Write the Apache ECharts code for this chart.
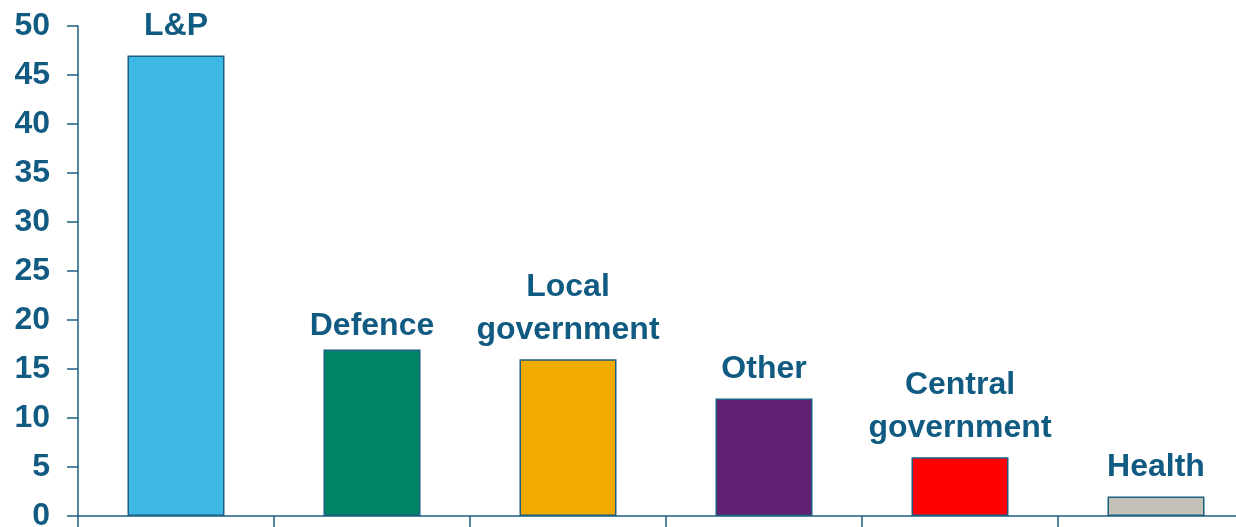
<!DOCTYPE html>
<html>
<head>
<meta charset="utf-8">
<script src="https://cdn.jsdelivr.net/npm/echarts@6/dist/echarts.min.js"></script>
<style>
html,body{margin:0;padding:0;background:#fff;}
#main{width:1236px;height:527px;}
</style>
</head>
<body>
<div id="main"></div>
<script>
// data
var categories = ['L&P', 'Defence', 'Local\ngovernment', 'Other', 'Central\ngovernment', 'Health'];
var values = [47, 17, 16, 12, 6, 2];
var barColors = ['#3db7e4', '#008566', '#f0aa00', '#621f73', '#ff0000', '#c4c1b9'];
var yTicks = [0, 5, 10, 15, 20, 25, 30, 35, 40, 45, 50];

var axisColor = '#1d5f80';
var textColor = '#115b82';

var chart = echarts.init(document.getElementById('main'));

var barData = values.map(function (v, i) {
	var item = {
		value: v,
		itemStyle: {color: barColors[i]}
	};
	// Defence label sits a little closer to its bar
	if (i == 1) item.label = {distance: 2};
	return item;
});

chart.setOption({
	animation: false,
	grid: {
		left: 78,
		width: 1176,
		top: 26,
		bottom: 11,
		outerBoundsMode: 'none'
	},
	xAxis: {
		type: 'category',
		data: categories,
		axisLine: {lineStyle: {color: axisColor, width: 1.5}},
		axisTick: {show: true, length: 11, lineStyle: {color: axisColor, width: 1.5}},
		axisLabel: {show: false}
	},
	yAxis: {
		type: 'value',
		min: yTicks[0],
		max: yTicks[yTicks.length - 1],
		interval: 5,
		splitLine: {show: false},
		axisLine: {show: true, lineStyle: {color: axisColor, width: 1.5}},
		axisTick: {show: true, length: 11, lineStyle: {color: axisColor, width: 1.5}},
		axisLabel: {
			margin: 28,
			color: textColor,
			fontFamily: 'Liberation Sans',
			fontWeight: 'bold',
			fontSize: 32
		}
	},
	series: [
		{
			type: 'bar',
			data: barData,
			barWidth: '49.5%',
			itemStyle: {borderColor: axisColor, borderWidth: 1.5},
			label: {
				show: true,
				position: 'top',
				distance: 8,
				formatter: function (p) { return categories[p.dataIndex]; },
				color: textColor,
				fontFamily: 'Liberation Sans',
				fontWeight: 'bold',
				fontSize: 32,
				lineHeight: 43,
				align: 'center'
			}
		}
	]
});
</script>
</body>
</html>
